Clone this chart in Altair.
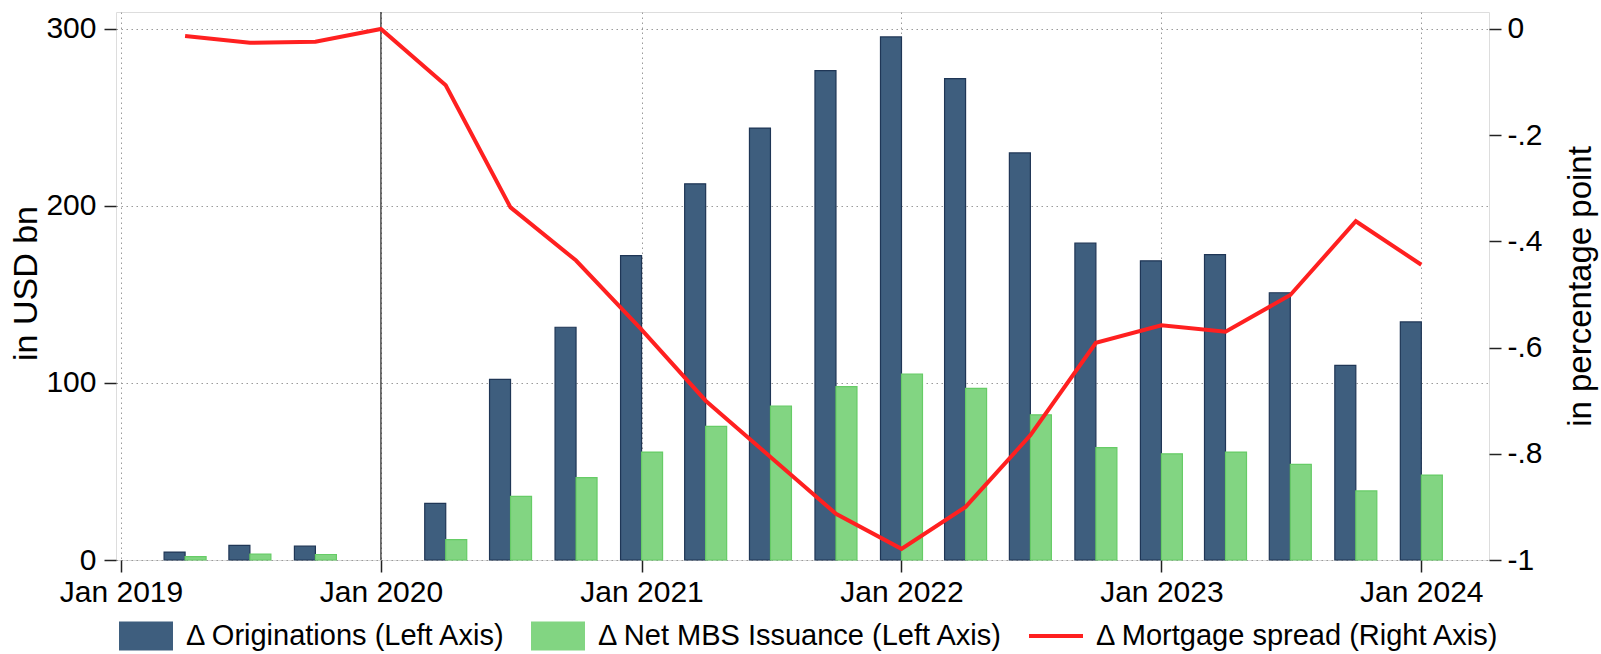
import altair as alt
import pandas as pd

# Quarterly observations (start of each quarter)
quarters = ["2019-04-01", "2019-07-01", "2019-10-01", "2020-01-01",
            "2020-04-01", "2020-07-01", "2020-10-01", "2021-01-01",
            "2021-04-01", "2021-07-01", "2021-10-01", "2022-01-01",
            "2022-04-01", "2022-07-01", "2022-10-01", "2023-01-01",
            "2023-04-01", "2023-07-01", "2023-10-01", "2024-01-01"]

# Change in mortgage originations, USD bn (left axis)
originations = [4.5, 8.3, 7.8, 0, 32, 102, 131.5, 172, 212.5, 244,
                276.5, 295.5, 272, 230, 179, 169, 172.5, 151, 110, 134.5]

# Change in net MBS issuance, USD bn (left axis)
net_mbs = [1.9, 3.3, 3.1, 0, 11.5, 36, 46.5, 61, 75.5, 87,
           98, 105, 97, 82, 63.5, 60, 61, 54, 39, 48]

# Change in mortgage spread, percentage points (right axis)
spread = [-0.013, -0.026, -0.024, 0.0, -0.106, -0.336, -0.436, -0.566, -0.70, -0.806,
          -0.913, -0.979, -0.90, -0.765, -0.591, -0.558, -0.570, -0.501, -0.362, -0.444]

series_names = ["\u0394 Originations (Left Axis)",
                "\u0394 Net MBS Issuance (Left Axis)",
                "\u0394 Mortgage spread (Right Axis)"]
series_colors = ["#3e5e7e", "#82d582", "#ff2020"]
series_shapes = ["M-1,-0.537H1V0.537H-1Z",
                 "M-1,-0.537H1V0.537H-1Z",
                 "M-1,-0.075H1V0.075H-1Z"]

year_ticks = [2019, 2020, 2021, 2022, 2023, 2024]
pandemic_start = ["2020-01-01"]
left_ticks = [0, 100, 200, 300]
right_ticks = [0, -0.2, -0.4, -0.6, -0.8, -1]

df = pd.DataFrame({
    "quarter": quarters,
    "originations": originations,
    "net_mbs": net_mbs,
    "spread": spread,
})

FONT = "Liberation Sans"
W, H = 1373, 548
GRID = dict(gridDash=[1.5, 3.5], gridColor="#9a9a9a", gridWidth=1)
TICKS = dict(tickSize=12, tickWidth=1.5, tickColor="#222222")
LABELS = dict(labelFontSize=30, labelFont=FONT, labelColor="black")
TITLES = dict(titleFont=FONT, titleFontWeight="normal",
              titleColor="black", titleAngle=270, titleAlign="center",
              titleBaseline="middle")

x_enc = alt.X(
    "quarter:T",
    scale=alt.Scale(
        type="utc",
        domain=[alt.DateTime(year=2019, month=1, date=1, utc=True),
                alt.DateTime(year=2024, month=3, date=29, utc=True)],
    ),
    axis=alt.Axis(
        values=[alt.DateTime(year=y, month=1, date=1, utc=True) for y in year_ticks],
        labelExpr="utcFormat(datum.value, '%b %Y')",
        title=None,
        grid=True,
        domain=False,
        labelPadding=5,
        labelOverlap=False,
        labelFlush=False,
        **GRID, **TICKS, **LABELS,
    ),
)

left_scale = alt.Scale(domain=[0, 309.6], nice=False, zero=True)

base = alt.Chart(df)

# quarters with no change draw no bar
dark_bars = base.transform_filter("datum.originations != 0").mark_bar(
    width=21, xOffset=-10.5, color=series_colors[0],
    stroke="#1f3656", strokeWidth=1.2,
).encode(
    x=x_enc,
    y=alt.Y(
        "originations:Q",
        scale=left_scale,
        axis=alt.Axis(
            orient="left",
            values=left_ticks,
            format="d",
            title="in USD bn",
            titleFontSize=34,
            titleX=-90,
            titleY=271,
            grid=True,
            domain=False,
            labelPadding=8,
            **GRID, **TICKS, **LABELS, **TITLES,
        ),
    ),
)

green_bars = base.transform_filter("datum.net_mbs != 0").mark_bar(
    width=21, xOffset=10.5, color=series_colors[1],
    stroke="#66cc66", strokeWidth=1.2,
).encode(
    x=x_enc,
    y=alt.Y("net_mbs:Q", scale=left_scale, axis=None),
)

pandemic_rule = alt.Chart(pd.DataFrame({"quarter": pandemic_start})).mark_rule(
    color="#222222", strokeWidth=1.2
).encode(x=x_enc)

spread_line = base.mark_line(color=series_colors[2], strokeWidth=4).encode(
    x=x_enc,
    y=alt.Y(
        "spread:Q",
        scale=alt.Scale(domain=[-1, 0.032], nice=False, zero=False),
        axis=alt.Axis(
            orient="right",
            values=right_ticks,
            labelExpr="datum.value == 0 ? '0' : (datum.value <= -1 ? '-1' : '-.' + round(-datum.value * 10))",
            title="in percentage point",
            titleFontSize=33,
            titleX=91,
            titleY=H / 2,
            grid=False,
            domain=False,
            labelPadding=6,
            **TICKS, **LABELS, **TITLES,
        ),
    ),
)

legend_def = alt.Legend(
    orient="none",
    legendX=3,
    legendY=597,
    direction="horizontal",
    title=None,
    labelFontSize=29,
    labelFont=FONT,
    labelColor="black",
    labelLimit=800,
    symbolSize=2916,
    symbolStrokeWidth=0,
    symbolOpacity=1,
    labelOffset=13,
    columnPadding=24,
)

legend_points = alt.Chart(pd.DataFrame({"series": series_names})).mark_point(
    filled=True, size=10
).encode(
    x=alt.value(0),
    y=alt.value(-600),
    color=alt.Color("series:N", scale=alt.Scale(domain=series_names, range=series_colors),
                    legend=legend_def),
    shape=alt.Shape("series:N", scale=alt.Scale(domain=series_names, range=series_shapes),
                    legend=legend_def),
)

chart = alt.layer(
    dark_bars, green_bars, pandemic_rule, spread_line, legend_points
).resolve_scale(
    y="independent"
).properties(
    width=W,
    height=H,
    padding={"left": 116, "top": 12, "right": 1601 - 116 - W, "bottom": 654 - 12 - H},
    autosize=alt.AutoSizeParams(type="none"),
    background="white",
).configure_view(
    stroke="#222222",
    strokeWidth=1.5,
).configure(
    font=FONT,
)

chart.save("out.html", embed_options={"renderer": "svg", "actions": False})
